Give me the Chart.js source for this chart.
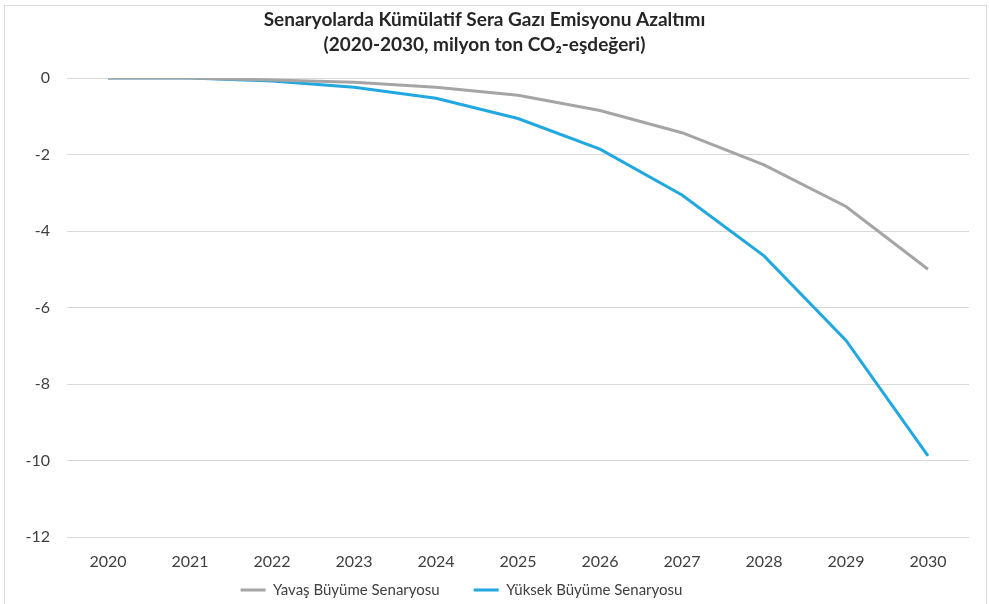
<!DOCTYPE html>
<html>
<head>
<meta charset="utf-8">
<script src="https://cdn.jsdelivr.net/npm/chart.js@4.4.1/dist/chart.umd.min.js"></script>
<style>
html,body{margin:0;padding:0;background:#fff;}
#wrap{width:989px;height:604px;position:relative;}
</style>
</head>
<body>
<div id="wrap"><canvas id="c" width="989" height="604"></canvas></div>
<script>
const years = ['2020','2021','2022','2023','2024','2025','2026','2027','2028','2029','2030'];
const slowGrowth = [0, 0, -0.05, -0.11, -0.24, -0.45, -0.85, -1.43, -2.27, -3.36, -5.0];
const fastGrowth = [0, 0, -0.08, -0.24, -0.53, -1.06, -1.86, -3.06, -4.65, -6.86, -9.88];
const seriesNames = ['Yavaş Büyüme Senaryosu', 'Yüksek Büyüme Senaryosu'];
const titleLines = ['Senaryolarda Kümülatif Sera Gazı Emisyonu Azaltımı', '(2020-2030, milyon ton CO₂-eşdeğeri)'];

const framePlugin = {
  id: 'frame',
  beforeLayout(chart) {
    const lg = chart.legend;
    if (lg && !lg.__patched) {
      const f = lg.fit;
      lg.fit = function () { f.call(this); this.height = 33; };
      lg.__patched = true;
    }
  },
  afterLayout(chart) {
    const lg = chart.legend;
    if (lg) {
      lg.top = 548.5;
      lg.bottom = 604;
      lg.height = lg.bottom - lg.top;
      lg.left = lg.left - 23;
      lg.right = lg.right - 23;
    }
  },
  beforeDraw(chart) {
    const ctx = chart.ctx;
    ctx.save();
    ctx.fillStyle = '#fff';
    ctx.fillRect(0, 0, chart.width, chart.height);
    ctx.strokeStyle = '#d9d9d9';
    ctx.lineWidth = 1;
    ctx.strokeRect(4.5, 5.5, 982, 610);
    ctx.restore();
  }
};

new Chart(document.getElementById('c'), {
  type: 'line',
  data: {
    labels: years,
    datasets: [
      { label: seriesNames[0], data: slowGrowth, borderColor: '#A5A5A5', backgroundColor: '#A5A5A5', borderWidth: 3, pointRadius: 0, tension: 0 },
      { label: seriesNames[1], data: fastGrowth, borderColor: '#21A8E1', backgroundColor: '#21A8E1', borderWidth: 3, pointRadius: 0, tension: 0 }
    ]
  },
  plugins: [framePlugin],
  options: {
    responsive: false,
    animation: false,
    layout: { padding: { left: 0, right: 20, top: 0, bottom: 0 } },
    plugins: {
      title: {
        display: true,
        text: titleLines,
        color: '#262626',
        font: { family: 'Lato', size: 19, weight: 'bold', lineHeight: 25 / 19 },
        padding: { top: 7.5, bottom: 20.5 }
      },
      legend: {
        position: 'bottom',
        labels: {
          usePointStyle: true,
          pointStyle: 'line',
          pointStyleWidth: 25,
          color: '#404040',
          font: { family: 'Lato', size: 15, lineHeight: 1 },
          padding: 34
        }
      },
      tooltip: { enabled: false }
    },
    scales: {
      x: {
        offset: true,
        grid: { display: false, drawTicks: false },
        border: { display: false },
        ticks: { color: '#404040', font: { family: 'Lato', size: 16 }, padding: 15, maxRotation: 0, autoSkip: false },
        afterFit(s) { s.height = 34; }
      },
      y: {
        min: -12, max: 0,
        ticks: { stepSize: 2, color: '#404040', font: { family: 'Lato', size: 16 }, padding: 17 },
        grid: { color: '#d9d9d9', lineWidth: 1, drawTicks: false },
        border: { display: false },
        afterFit(s) { s.width = 67; }
      }
    }
  }
});
</script>
</body>
</html>
